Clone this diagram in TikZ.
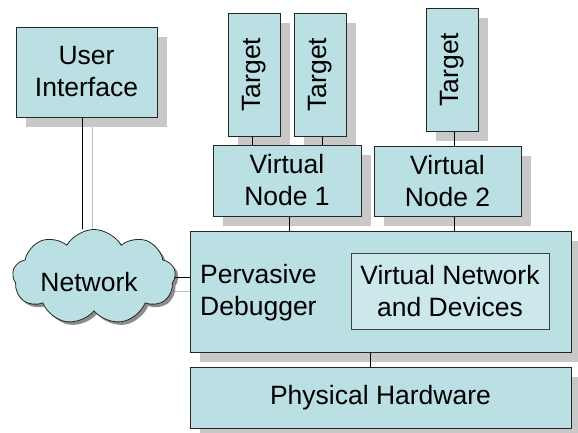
\documentclass[tikz,border=0pt]{standalone}
\usepackage{fontspec}
\setmainfont{Liberation Sans}
\usetikzlibrary{shapes.symbols,shadows}
\definecolor{boxfill}{RGB}{187,224,227}
\definecolor{innerfill}{RGB}{204,232,234}
\definecolor{shadecol}{RGB}{200,200,200}
\tikzset{
  txt/.style={font=\fontsize{26.5}{32}\selectfont},
  blk/.style={draw=black!85, line width=0.8pt, fill=boxfill, inner sep=0pt,
    align=center, txt,
    drop shadow={shadow xshift=10pt, shadow yshift=-10pt, fill=shadecol, opacity=1}},
  innerblk/.style={draw=black!75, line width=0.8pt, fill=innerfill, inner sep=0pt,
    align=center, txt},
  cloudblk/.style={cloud, cloud puffs=9, cloud puff arc=120, aspect=1.7, draw=black!85, line width=0.8pt,
    fill=boxfill, inner sep=0pt, txt,
    drop shadow={shadow xshift=3pt, shadow yshift=-3pt, fill=black!45, opacity=1}},
  lnk/.style={draw=black, line width=0.8pt},
  lnkshade/.style={draw=black!25, line width=0.8pt}
}
\begin{document}
\begin{tikzpicture}[x=1pt,y=-1pt]
\useasboundingbox (0,0) rectangle (578,433);
% shadow lines of the two left connectors
\coordinate (uis) at (92,117);
\coordinate (uie) at (92,236);
\draw[lnkshade] (uis) -- (uie);
\coordinate (nws) at (170,291);
\coordinate (nwe) at (190,291);
\draw[lnkshade] (nws) -- (nwe);
% boxes
\node[blk, minimum width=141pt, minimum height=90pt] (ui) at (86.5,72) {User\\Interface};
\node[blk, minimum width=52pt, minimum height=123pt] (t1) at (254,74.5) {\rotatebox{90}{Target}};
\node[blk, minimum width=52pt, minimum height=123pt] (t2) at (320,74.5) {\rotatebox{90}{Target}};
\node[blk, minimum width=52pt, minimum height=123pt] (t3) at (452,69.5) {\rotatebox{90}{Target}};
\node[blk, minimum width=148pt, minimum height=71pt] (vn1) at (287,180.5) {Virtual\\Node 1};
\node[blk, minimum width=147pt, minimum height=70pt] (vn2) at (447.5,181) {Virtual\\Node 2};
\node[blk, minimum width=381pt, minimum height=121pt] (pd) at (380.5,291.5) {};
\node[blk, minimum width=381pt, minimum height=61pt] (ph) at (380.5,397.5) {Physical Hardware};
\node[innerblk, minimum width=198pt, minimum height=76pt] (vnd) at (450,291) {Virtual Network\\and Devices};
\node[txt, align=left, anchor=west, inner sep=0pt] (pdl) at (200,293) {Pervasive\\Debugger};
\node[cloudblk, minimum width=163pt, minimum height=95pt] (net) at (94,277) {};
\node[txt, inner sep=0pt] (netl) at (89,282) {Network};
% connectors
\draw[lnk] ([xshift=-4.5pt]ui.south) -- ([xshift=-4.5pt]ui.south |- net.north);
\draw[lnk] (net.east) -- (net.east -| pd.west);
\draw[lnk] ([xshift=-2pt]t1.south) -- ([xshift=-2pt]t1.south |- vn1.north);
\draw[lnk] ([xshift=2pt]t2.south) -- ([xshift=2pt]t2.south |- vn1.north);
\draw[lnk] ([xshift=2pt]t3.south) -- ([xshift=2pt]t3.south |- vn2.north);
\draw[lnk] ([xshift=2pt]vn1.south) -- ([xshift=2pt]vn1.south |- pd.north);
\draw[lnk] ([xshift=6.5pt]vn2.south) -- ([xshift=6.5pt]vn2.south |- pd.north);
\draw[lnk] ([xshift=-10.5pt]pd.south) -- ([xshift=-10.5pt]pd.south |- ph.north);
\end{tikzpicture}
\end{document}
